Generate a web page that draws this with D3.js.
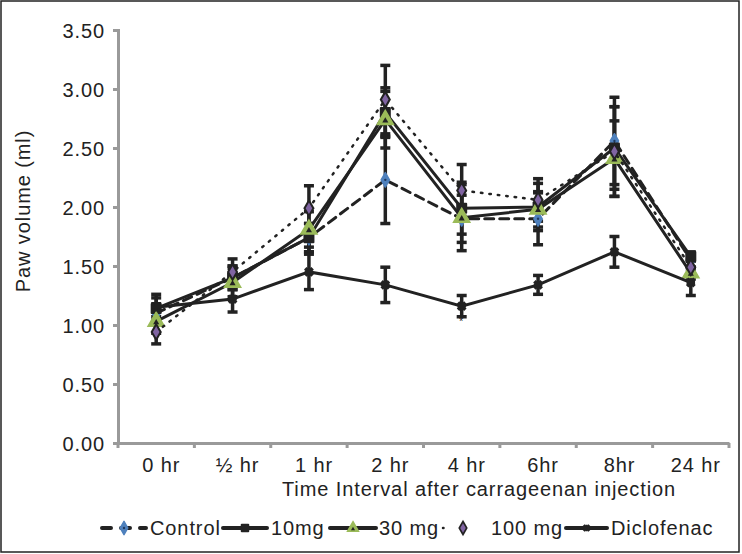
<!DOCTYPE html>
<html><head><meta charset="utf-8">
<script src="https://cdn.jsdelivr.net/npm/d3@7"></script>
<style>body{margin:0;background:#fff}svg{display:block}text{font-family:"Liberation Sans",Arial,sans-serif;fill:#222;letter-spacing:0.9px}</style>
</head><body><div id="c"></div>
<script>
const categories = ["0 hr","\u00BD  hr","1 hr","2 hr","4 hr","6hr","8hr","24 hr"];
const yTicks = [0,0.5,1,1.5,2,2.5,3,3.5];
const control = [1.10,1.40,1.74,2.23,1.90,1.90,2.56,1.55];
const mg10    = [1.14,1.40,1.74,2.80,1.99,2.00,2.50,1.58];
const mg30    = [1.03,1.36,1.81,2.74,1.91,1.98,2.41,1.44];
const mg100   = [0.94,1.45,1.99,2.91,2.14,2.06,2.47,1.49];
const diclo   = [1.15,1.22,1.45,1.34,1.16,1.34,1.62,1.36];
const controlErr = [0.08,0.10,0.12,0.37,0.20,0.22,0.37,0.06];
const mg10Err    = [0.12,0.10,0.12,0.21,0.22,0.20,0.35,0.04];
const mg30Err    = [0.10,0.12,0.15,0.24,0.28,0.15,0.32,0.05];
const mg100Err   = [0.10,0.11,0.19,0.29,0.22,0.18,0.38,0.06];
const dicloErr   = [0.08,0.11,0.15,0.15,0.09,0.08,0.13,0.11];
const seriesNames = ["Control","10mg","30 mg","100 mg","Diclofenac"];

const W=742,H=554;
const svg=d3.select("#c").append("svg").attr("width",W).attr("height",H);
svg.append("rect").attr("x",1).attr("y",1).attr("width",W-4).attr("height",H-3).attr("fill","none").attr("stroke","#222").attr("stroke-width",1.5);

const x=d3.scaleBand().domain(categories).range([118,729]);
const y=d3.scaleLinear().domain([0,3.5]).range([443,30]);
const cx=c=>x(c)+x.bandwidth()/2;

const series=[
 {name:seriesNames[0],vals:control,err:controlErr,dash:"9,6",marker:"circle"},
 {name:seriesNames[1],vals:mg10,err:mg10Err,dash:null,marker:"square"},
 {name:seriesNames[2],vals:mg30,err:mg30Err,dash:null,marker:"triangle"},
 {name:seriesNames[3],vals:mg100,err:mg100Err,dash:"1.5,7",marker:"diamond"},
 {name:seriesNames[4],vals:diclo,err:dicloErr,dash:null,marker:"star"}
];

// axes
const yAxis=d3.axisLeft(y).tickValues(yTicks).tickFormat(d3.format(".2f")).tickSize(5).tickPadding(8);
const gy=svg.append("g").attr("transform","translate(118,0)").call(yAxis);
gy.select(".domain").attr("stroke","#9a9a9a").attr("stroke-width",3);
gy.selectAll(".tick line").attr("stroke","#9a9a9a").attr("stroke-width",3);
gy.selectAll(".tick text").style("font-size","20px").attr("fill","#222").attr("dy","0.36em");

const xAxis=d3.axisBottom(x).tickSize(0).tickPadding(15);
const gx=svg.append("g").attr("transform","translate(0,443)").call(xAxis);
gx.select(".domain").attr("stroke","#9a9a9a").attr("stroke-width",3);
gx.selectAll(".tick text").style("font-size","20px").attr("fill","#222").attr("dx",5);
gx.selectAll(".sep").data(categories.concat(["end"])).enter().append("line")
 .attr("x1",(d,i)=>i<categories.length?x(d):x.range()[1]).attr("x2",(d,i)=>i<categories.length?x(d):x.range()[1])
 .attr("y1",0).attr("y2",5).attr("stroke","#9a9a9a").attr("stroke-width",3);

svg.append("text").attr("x",479).attr("y",496).attr("text-anchor","middle").style("font-size","20px").text("Time Interval after carrageenan injection");
svg.append("text").attr("transform","translate(30,211) rotate(-90)").attr("text-anchor","middle").style("font-size","20px").text("Paw volume (ml)");

// error bars
series.forEach(s=>{
 const g=svg.append("g");
 s.vals.forEach((v,i)=>{
  const px=cx(categories[i]);
  g.append("line").attr("x1",px).attr("x2",px).attr("y1",y(v-s.err[i])).attr("y2",y(v+s.err[i])).attr("stroke","#222").attr("stroke-width",3.5);
  [v-s.err[i],v+s.err[i]].forEach(e=>g.append("line").attr("x1",px-5).attr("x2",px+5).attr("y1",y(e)).attr("y2",y(e)).attr("stroke","#222").attr("stroke-width",3.5));
 });
});

function drawMarker(g,type,px,py,scale){
 scale=scale||1;
 if(type==="circle"){
  g.append("path").attr("d",d3.symbol(d3.symbolDiamond,60*scale)()).attr("transform",`translate(${px},${py})`).attr("fill","#4f81bd").attr("stroke","#4f81bd").attr("stroke-width",1.5).attr("stroke-linejoin","round");
  g.append("circle").attr("cx",px).attr("cy",py).attr("r",1.2).attr("fill","#1f3a5f");
 } else if(type==="square"){
  g.append("rect").attr("x",px-5.5*Math.sqrt(scale)).attr("y",py-5.5*Math.sqrt(scale)).attr("width",11*Math.sqrt(scale)).attr("height",11*Math.sqrt(scale)).attr("fill","#222").attr("rx",1);
 } else if(type==="triangle"){
  g.append("path").attr("d",d3.symbol(d3.symbolTriangle,115*scale)()).attr("transform",`translate(${px},${py})`).attr("fill","#9bbb59").attr("stroke","#9bbb59").attr("stroke-width",1.5);
  g.append("path").attr("d",d3.symbol(d3.symbolTriangle,16*scale)()).attr("transform",`translate(${px},${py+1})`).attr("fill","#222");
 } else if(type==="diamond"){
  g.append("path").attr("d",d3.symbol(d3.symbolDiamond,110*scale)()).attr("transform",`translate(${px},${py})`).attr("fill","#222");
  g.append("path").attr("d",d3.symbol(d3.symbolDiamond,38*scale)()).attr("transform",`translate(${px},${py})`).attr("fill","#8064a2");
 } else if(type==="star"){
  g.append("path").attr("d",d3.symbol(d3.symbolCross,60*scale)()).attr("transform",`translate(${px},${py}) rotate(45)`).attr("fill","#222");
  g.append("path").attr("d",d3.symbol(d3.symbolCross,40*scale)()).attr("transform",`translate(${px},${py})`).attr("fill","#222");
 }
}

const line=d3.line().x((d,i)=>cx(categories[i])).y(d=>y(d));
series.forEach(s=>{
 const g=svg.append("g");
 g.append("path").datum(s.vals).attr("d",line).attr("fill","none").attr("stroke","#222")
  .attr("stroke-width",s.dash==="1.5,7"?2.5:3).attr("stroke-linecap","round")
  .attr("stroke-dasharray",s.dash);
 s.vals.forEach((v,i)=>drawMarker(g,s.marker,cx(categories[i]),y(v)));
});

// significance mark
svg.append("text").attr("x",cx(categories[4])).attr("y",y(1.0)).attr("text-anchor","middle").style("font-size","11px").attr("fill","#666").text("*");

// legend
const legX=[102,223,330,443,566], legW=[44,44,46,40,41], textX=[150,271,379,491,611];
const legScale=[0.85,0.6,0.45,0.7,0.6];
const lg=svg.append("g");
series.forEach((s,i)=>{
 const ly=528;
 lg.append("line").attr("x1",legX[i]).attr("x2",legX[i]+legW[i]).attr("y1",ly).attr("y2",ly).attr("stroke","#222")
  .attr("stroke-width",s.dash==="1.5,7"?2.5:4).attr("stroke-linecap","round").attr("stroke-dasharray",s.dash==="9,6"?"9,10":s.dash==="1.5,7"?"0.5,20":null);
 drawMarker(lg,s.marker,legX[i]+legW[i]/2,ly,legScale[i]);
 lg.append("text").attr("x",textX[i]).attr("y",ly+7).style("font-size","20px").text(s.name);
});
</script></body></html>
